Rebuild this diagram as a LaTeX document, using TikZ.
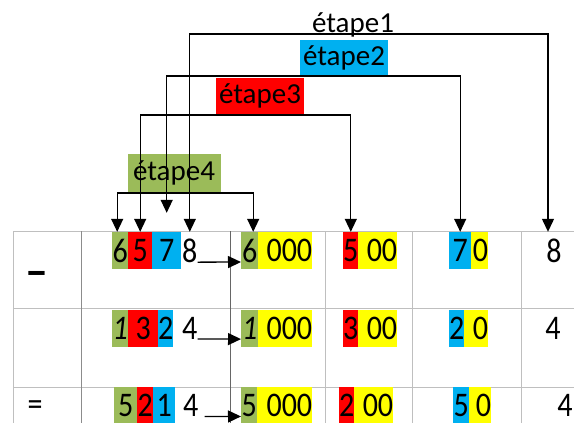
\documentclass[tikz,border=0pt]{standalone}
\usepackage{fontspec}
\setmainfont{Carlito}
\newfontfamily\chiffam[FakeStretch=0.87]{Carlito}
\usetikzlibrary{arrows.meta}
\definecolor{vert}{RGB}{155,187,89}
\definecolor{rouge}{RGB}{255,0,0}
\definecolor{bleu}{RGB}{0,176,240}
\definecolor{jaune}{RGB}{255,255,0}
\newcommand{\chif}{\chiffam\fontsize{34.5}{40}\selectfont}
\newcommand{\etq}{\fontsize{29}{35}\selectfont}
\tikzset{
  dg/.style={rectangle, inner sep=0pt, minimum height=37pt, anchor=west, font=\chif},
  zero/.style={dg, fill=jaune, align=right},
  lbl/.style={rectangle, inner xsep=2pt, inner ysep=0pt, minimum height=37pt, minimum width=88pt, anchor=south, font=\etq},
  grille/.style={black!25, line width=0.8pt},
  fleche/.style={black, line width=1.3pt, -{Triangle[width=12pt,length=13pt]}},
  accol/.style={black, line width=1.3pt, {Triangle[width=12pt,length=13pt]}-{Triangle[width=12pt,length=13pt]}},
}

\begin{document}
\begin{tikzpicture}[x=1pt,y=-1pt]
\useasboundingbox (0,0) rectangle (574,423);
% tableau
\foreach \y in {231,308,387} {
\draw[grille] (13,\y) -- (574,\y);
}
\foreach \x in {13,325,412,521} {
\draw[grille] (\x,231) -- (\x,423);
}
\draw[grille, black!45] (81,231) -- (81,423);
\draw[grille, black!60] (230,231) -- (230,423);
\node[font=\fontsize{46}{46}\selectfont\bfseries, inner sep=0pt] (moins) at (37,279) {–};
\node[font=\chif, inner sep=0pt] (egal) at (35,408) {=};
% ligne 1
\node[dg, fill=vert, minimum width=16pt] (a1) at (112,250.5) {6};
\node[dg, fill=rouge, minimum width=24pt] (a2) at (128,250.5) {5};
\node[dg, fill=bleu, minimum width=29pt] (a3) at (152,250.5) {7};
\node[dg, minimum width=15pt] (a4) at (182,250.5) {8};
\node[dg, fill=vert, minimum width=17pt] (k1) at (241,250.5) {6};
\node[zero, text width=54pt] (k1z) at (258,250.5) {000};
\node[dg, fill=rouge, minimum width=15pt] (h1) at (343,250.5) {5};
\node[zero, text width=39pt] (h1z) at (358,250.5) {00};
\node[dg, fill=bleu, minimum width=22pt] (t1) at (449,250.5) {7};
\node[zero, text width=17pt] (t1z) at (471,250.5) {0};
\node[dg, anchor=center] (u1) at (554,250.5) {8};
% ligne 2
\node[dg, fill=vert, minimum width=16pt] (b1) at (112,328) {\itshape 1};
\node[dg, fill=rouge, minimum width=30pt] (b2) at (128,328) {3};
\node[dg, fill=bleu, minimum width=15pt] (b3) at (158,328) {2};
\node[dg, minimum width=15pt] (b4) at (182,328) {4};
\node[dg, fill=vert, minimum width=17pt] (k2) at (241,328) {\itshape 1};
\node[zero, text width=54pt] (k2z) at (258,328) {000};
\node[dg, fill=rouge, minimum width=15pt] (h2) at (343,328) {3};
\node[zero, text width=39pt] (h2z) at (358,328) {00};
\node[dg, fill=bleu, minimum width=15pt] (t2) at (449,328) {2};
\node[zero, text width=24pt] (t2z) at (464,328) {0};
\node[dg, anchor=center] (u2) at (553,328) {4};
% ligne 3
\node[dg, fill=vert, minimum width=23pt] (c1) at (114,405.5) {5};
\node[dg, fill=rouge, minimum width=16pt] (c2) at (137,405.5) {2};
\node[dg, fill=bleu, minimum width=22pt] (c3) at (153,405.5) {1};
\node[dg, minimum width=15pt] (c4) at (183,405.5) {4};
\node[dg, fill=vert, minimum width=16pt] (k3) at (241,405.5) {5};
\node[zero, text width=55pt] (k3z) at (257,405.5) {000};
\node[dg, fill=rouge, minimum width=15pt] (h3) at (339,405.5) {2};
\node[zero, text width=39pt] (h3z) at (354,405.5) {00};
\node[dg, fill=bleu, minimum width=16pt] (t3) at (453,405.5) {5};
\node[zero, text width=22pt] (t3z) at (469,405.5) {0};
\node[dg, anchor=center] (u3) at (565,405.5) {4};
% fleches vers les milliers
\draw[fleche] (a4.base east) -- (k1.base west);
\draw[fleche] (b4.base east) -- (k2.base west);
\draw[fleche, shorten <=6pt] (c4.base east) -- (k3.base west);
% etapes
\node[font=\etq, inner sep=0pt, anchor=base] (e1) at (353,32) {étape1};
\node[lbl, fill=bleu] (e2) at (344,77) {étape2};
\node[lbl, fill=rouge] (e3) at (260,115) {étape3};
\node[lbl, fill=vert, minimum height=39pt, minimum width=93pt] (e4) at (174,193) {étape4};
\coordinate (n1) at (0,34);
\coordinate (n2) at (0,76);
\coordinate (n3) at (0,115);
\coordinate (n4) at (0,193);
\coordinate (p1) at ([xshift=-6pt]u1.north);
\coordinate (p4) at ([xshift=-3pt]a1.north);
\coordinate (q4) at ([xshift=3.5pt]k1.north);
\coordinate (p2) at ([yshift=19pt]a3.north);
\draw[accol] (a4.north) |- (n1 -| p1) -- (p1);
\draw[accol] (p2) |- (n2 -| t1.north) -- (t1.north);
\draw[accol] (a2.north) |- (n3 -| h1.north) -- (h1.north);
\draw[accol] (p4) |- (n4 -| q4) -- (q4);
\end{tikzpicture}
\end{document}
